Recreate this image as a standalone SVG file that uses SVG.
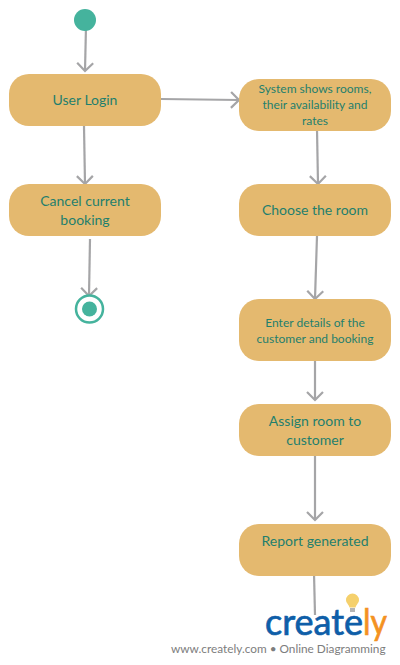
<svg xmlns="http://www.w3.org/2000/svg" width="400" height="665" viewBox="0 0 400 665">
<style>
.n{fill:#e4b96f}
.t{font-family:Lato,"Open Sans",sans-serif;fill:#1f7f6d;text-anchor:middle}
.l{font-size:14px}
.s{font-size:12px}
.c{fill:none;stroke:#a5a5a7;stroke-width:2.200}
.dot{fill:#45b39d}
</style>
<defs><marker id="a" markerUnits="userSpaceOnUse" markerWidth="20" markerHeight="20" refX="15" refY="9" orient="auto"><path d="M7 1L15 9L7 17" fill="none" stroke="#a5a5a7" stroke-width="2.200"/></marker></defs>
<rect width="400" height="665" fill="#fff"/>
<g id="connectors">
<path class="c" marker-end="url(#a)" d="M86 26L85 71"/>
<path class="c" marker-end="url(#a)" d="M161 99L239 100"/>
<path class="c" marker-end="url(#a)" d="M84 126L85 184"/>
<path class="c" marker-end="url(#a)" d="M317 129L318 184"/>
<path class="c" marker-end="url(#a)" d="M90 239L89 296"/>
<path class="c" marker-end="url(#a)" d="M317 236L315 299"/>
<path class="c" marker-end="url(#a)" d="M315 361L315 400"/>
<path class="c" marker-end="url(#a)" d="M315 456L315 520"/>
<path class="c" d="M314 573L315 615"/>
</g>
<g id="start"><circle class="dot" cx="85" cy="20" r="11"/></g>
<g id="user-login"><rect class="n" x="9" y="74" width="152" height="52" rx="20"/><text class="t l" x="85" y="105">User Login</text></g>
<g id="system-shows"><rect class="n" x="239" y="79" width="152" height="52" rx="20"/><text class="t s"><tspan x="315" y="93">System shows rooms,</tspan><tspan x="315" y="109">their availability and</tspan><tspan x="315" y="125">rates</tspan></text></g>
<g id="cancel"><rect class="n" x="9" y="184" width="152" height="52" rx="20"/><text class="t l"><tspan x="85" y="206">Cancel current</tspan><tspan x="85" y="225">booking</tspan></text></g>
<g id="choose"><rect class="n" x="239" y="184" width="152" height="52" rx="20"/><text class="t l" x="315" y="215">Choose the room</text></g>
<g id="end"><circle cx="89.500" cy="309" r="13.500" fill="#fff" stroke="#45b39d" stroke-width="2.500"/><circle class="dot" cx="89.500" cy="309" r="7.500"/></g>
<g id="enter"><rect class="n" x="239" y="299" width="152" height="62" rx="20"/><text class="t s"><tspan x="315" y="327">Enter details of the</tspan><tspan x="315" y="343">customer and booking</tspan></text></g>
<g id="assign"><rect class="n" x="239" y="404" width="152" height="52" rx="20"/><text class="t l"><tspan x="315" y="426">Assign room to</tspan><tspan x="315" y="445">customer</tspan></text></g>
<g id="report"><rect class="n" x="239" y="524" width="152" height="52" rx="20"/><text class="t l" x="315" y="546">Report generated</text></g>
<g id="logo">
<path d="M346 600a6.500 6.500 0 1 1 13 0c0 3-2.500 4-3.500 7.500h-6c-1-3.500-3.500-4.500-3.500-7.500z" fill="#f5d06c"/><rect x="350" y="608" width="5" height="4" fill="#b5b5b5"/>
<text x="265" y="635" font-family="Lato,sans-serif" font-size="36" fill="#0e5ea8" stroke="#0e5ea8" stroke-width="0.700" textLength="98" lengthAdjust="spacingAndGlyphs">create</text>
<text x="363" y="635" font-family="Lato,sans-serif" font-size="36" fill="#f4921f" stroke="#f4921f" stroke-width="0.700" textLength="24" lengthAdjust="spacingAndGlyphs">ly</text>
<text x="171" y="653" font-family="Lato,sans-serif" font-size="11.800" fill="#7d7d7d">www.creately.com • Online Diagramming</text>
</g>
</svg>
